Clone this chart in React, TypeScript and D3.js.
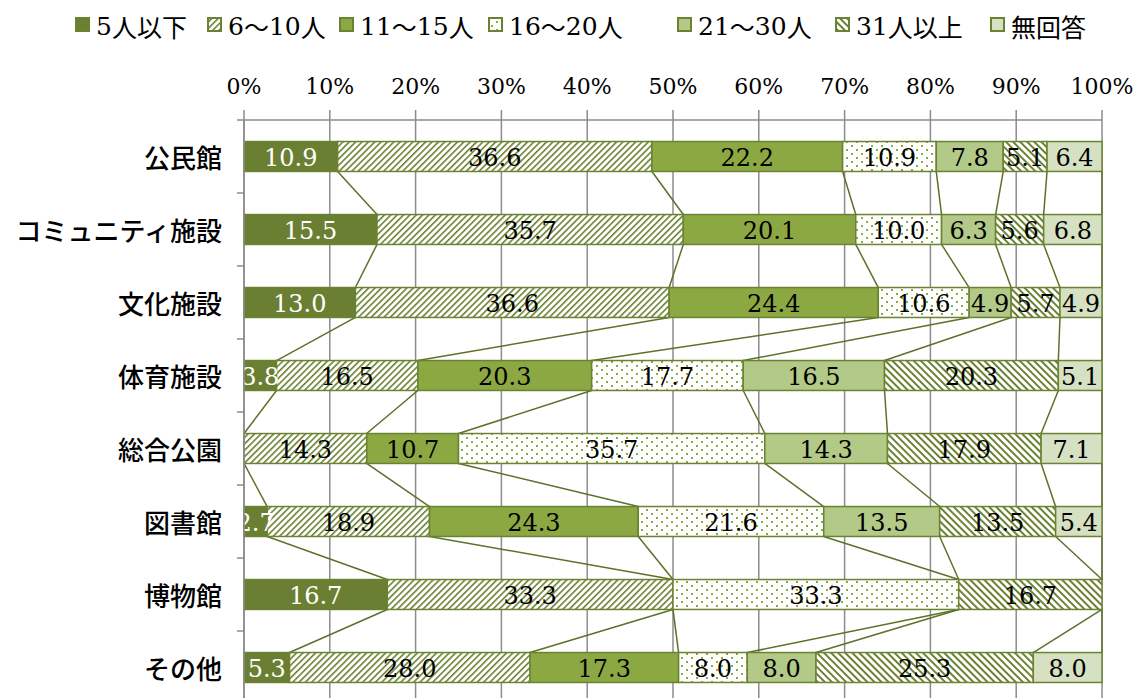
import React from "react";
import * as d3 from "d3";

const categories = ["公民館", "コミュニティ施設", "文化施設", "体育施設", "総合公園", "図書館", "博物館", "その他"];
const seriesNames = ["5人以下", "6～10人", "11～15人", "16～20人", "21～30人", "31人以上", "無回答"];
const s5below = [10.9, 15.5, 13.0, 3.8, 0, 2.7, 16.7, 5.3];
const s6to10 = [36.6, 35.7, 36.6, 16.5, 14.3, 18.9, 33.3, 28.0];
const s11to15 = [22.2, 20.1, 24.4, 20.3, 10.7, 24.3, 0, 17.3];
const s16to20 = [10.9, 10.0, 10.6, 17.7, 35.7, 21.6, 33.3, 8.0];
const s21to30 = [7.8, 6.3, 4.9, 16.5, 14.3, 13.5, 0, 8.0];
const s31above = [5.1, 5.6, 5.7, 20.3, 17.9, 13.5, 16.7, 25.3];
const sNoAnswer = [6.4, 6.8, 4.9, 5.1, 7.1, 5.4, 0, 8.0];
const seriesValues = [s5below, s6to10, s11to15, s16to20, s21to30, s31above, sNoAnswer];
const xTicks = [0, 10, 20, 30, 40, 50, 60, 70, 80, 90, 100];

// legend layout (x of each swatch)
const legendX = [76, 208, 340, 489, 678, 836, 991];

const OLIVE = "#6b8232";
const LINE = "#5c7228";
const fills = ["#6a7f32", "url(#p6)", "#8ca843", "url(#p16)", "#b3c987", "url(#p31)", "#d5e1c2"];
const labelColors = ["#ffffff", "#000", "#000", "#000", "#000", "#000", "#000"];

const NUM_FONT = "'DejaVu Serif', serif";
const CJK_FONT = "'Noto Sans CJK JP', sans-serif";

function isCJK(ch: string) {
  return /[\u3000-\u9fff\uff00-\uffef]/.test(ch);
}
function splitRuns(s: string) {
  const runs: { t: string; cjk: boolean }[] = [];
  for (const ch of s) {
    const c = isCJK(ch);
    if (runs.length && runs[runs.length - 1].cjk === c) runs[runs.length - 1].t += ch;
    else runs.push({ t: ch, cjk: c });
  }
  return runs;
}

export default function App() {
  const W = 1136, H = 698;
  const left = 244, right = 1102, top = 120;
  const band = 73;
  const x = d3.scaleLinear().domain([0, 100]).range([left, right]);
  const y = d3.scaleBand<string>().domain(categories).range([top, top + band * categories.length]).paddingInner(0.59).paddingOuter(0.295);
  const bh = y.bandwidth();

  const rows = categories.map((c, i) => {
    const vals = seriesValues.map((s) => s[i]);
    const total = d3.sum(vals);
    let acc = 0;
    return vals.map((v) => {
      const x0 = acc;
      acc += (v / total) * 100;
      return { v, x0, x1: acc };
    });
  });

  const LEG_SIZE = 25;
  const yBottom = top + band * categories.length;

  return (
    <svg width={W} height={H} style={{ position: "absolute", left: 0, top: 0, background: "#fff" }}>
      <defs>
        <pattern id="p6" patternUnits="userSpaceOnUse" width="4.5" height="4.5" patternTransform="rotate(45)">
          <rect width="4.5" height="4.5" fill="#fff" />
          <rect x="0" y="0" width="1.6" height="4.5" fill={OLIVE} />
        </pattern>
        <pattern id="p31" patternUnits="userSpaceOnUse" width="5" height="5" patternTransform="rotate(-45)">
          <rect width="5" height="5" fill="#fff" />
          <rect x="0" y="0" width="2" height="5" fill={OLIVE} />
        </pattern>
        <pattern id="p16" patternUnits="userSpaceOnUse" width="10" height="8">
          <rect width="10" height="8" fill="#fff" />
          <rect x="1" y="1" width="2" height="2" fill="#8ca843" />
          <rect x="6" y="5" width="2" height="2" fill="#8ca843" />
        </pattern>
        <clipPath id="plotClip">
          <rect x={left} y={top} width={right - left + 2} height={H - top} />
        </clipPath>
      </defs>

      {seriesNames.map((n, i) => (
        <g key={n}>
          <rect x={legendX[i]} y={18} width={13} height={13} fill={fills[i]} stroke={OLIVE} strokeWidth={2} />
          <text x={legendX[i] + 20} y={26} dominantBaseline="central" fontSize={LEG_SIZE} fill="#000">
            {splitRuns(n).map((r, k) => (
              <tspan key={k} fontFamily={r.cjk ? CJK_FONT : NUM_FONT}>{r.t}</tspan>
            ))}
          </text>
        </g>
      ))}

      {xTicks.map((t) => (
        <text key={t} x={x(t)} y={86} textAnchor="middle" dominantBaseline="central" fontFamily={NUM_FONT} fontSize={22} fill="#000">{t}%</text>
      ))}

      {xTicks.map((t) => (
        <line key={"g" + t} x1={x(t)} x2={x(t)} y1={110} y2={H} stroke="#8c8c8c" strokeWidth={1.5} />
      ))}
      <line x1={left} x2={right} y1={top} y2={top} stroke="#8c8c8c" strokeWidth={1.5} />
      {d3.range(categories.length + 1).map((k) => (
        <line key={"yt" + k} x1={left - 7} x2={left} y1={top + band * k} y2={top + band * k} stroke="#8c8c8c" strokeWidth={1.5} />
      ))}

      {categories.slice(0, -1).map((c, i) => (
        <g key={"sl" + c}>
          {rows[i].map((seg, s) => (
            <line key={s} x1={x(seg.x1)} y1={y(c)! + bh} x2={x(rows[i + 1][s].x1)} y2={y(categories[i + 1])!} stroke={LINE} strokeWidth={1.5} />
          ))}
        </g>
      ))}

      {categories.map((c, i) => (
        <g key={"b" + c}>
          {rows[i].map((seg, s) => seg.v > 0 ? (
            <rect key={s} x={x(seg.x0)} y={y(c)!} width={x(seg.x1) - x(seg.x0)} height={bh} fill={fills[s]} stroke={OLIVE} strokeWidth={1.5} />
          ) : null)}
        </g>
      ))}

      <g clipPath="url(#plotClip)">
        {categories.map((c, i) => (
          <g key={"l" + c}>
            {rows[i].map((seg, s) => seg.v > 0 ? (
              <text key={s} x={(x(seg.x0) + x(seg.x1)) / 2} y={y(c)! + bh / 2 + 1} textAnchor="middle" dominantBaseline="central" fontFamily={NUM_FONT} fontSize={24} fill={labelColors[s]}>{seg.v.toFixed(1)}</text>
            ) : null)}
          </g>
        ))}
      </g>

      {categories.map((c) => (
        <text key={"c" + c} x={222} y={y(c)! + bh / 2} textAnchor="end" dominantBaseline="central" fontFamily={CJK_FONT} fontWeight={500} fontSize={26} fill="#000">{c}</text>
      ))}

      <line x1={left} x2={left} y1={top} y2={yBottom} stroke="#8c8c8c" strokeWidth={1.5} />
    </svg>
  );
}
